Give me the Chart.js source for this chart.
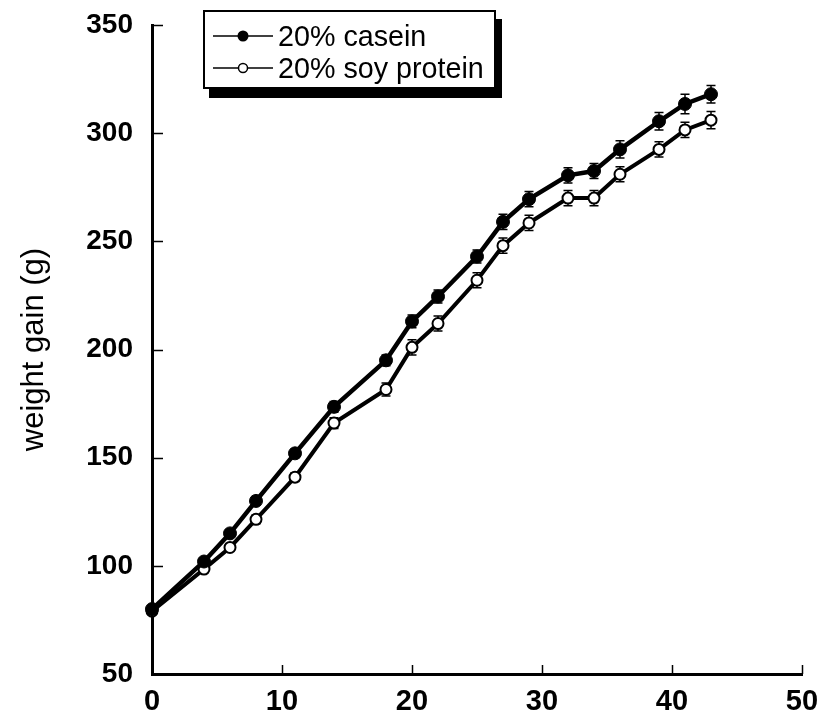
<!DOCTYPE html>
<html>
<head>
<meta charset="utf-8">
<script src="https://cdn.jsdelivr.net/npm/chart.js@4.4.1/dist/chart.umd.min.js"></script>
<style>
  html, body { margin: 0; padding: 0; background: #fff; }
  #wrap { position: relative; width: 821px; height: 712px; }
  #legend {
    position: absolute; left: 203px; top: 10px; width: 293px; height: 79px; box-sizing: border-box;
    border: 2px solid #000; background: #fff; box-shadow: 6px 9px 0 #000;
    font-family: "Liberation Sans", Arial, sans-serif; font-size: 28.7px; color: #000;
    white-space: nowrap;
  }
  #legend .row { position: absolute; left: 8px; height: 32px; display: flex; align-items: center; }
  #legend svg { margin-right: 5px; flex: none; }
</style>
</head>
<body>
<div id="wrap">
  <canvas id="lineChart" width="821" height="712"></canvas>
  <div id="legend">
    <div class="row" style="top:8px">
      <svg width="60" height="20"><line x1="0" y1="10" x2="60" y2="10" stroke="#000" stroke-width="1.5"/><circle cx="30" cy="10" r="5.5" fill="#000"/></svg>20% casein
    </div>
    <div class="row" style="top:40px">
      <svg width="60" height="20"><line x1="0" y1="10" x2="60" y2="10" stroke="#000" stroke-width="1.5"/><circle cx="30" cy="10" r="4.5" fill="#fff" stroke="#000" stroke-width="1.5"/></svg>20% soy protein
    </div>
  </div>
</div>
<script>
// days on diet
const days = [0, 4, 6, 8, 11, 14, 18, 20, 22, 25, 27, 29, 32, 34, 36, 39, 41, 43];
// weight gain (g)
const casein = [80, 102, 115, 130, 152, 173.5, 195, 213, 224.5, 243, 259, 269.5, 280.5, 282.5, 292.5, 305.5, 313.5, 318];
const soy = [79, 98.5, 108.5, 121.5, 141, 166, 181.5, 201, 212, 232, 248, 258.5, 270, 270, 281, 292.5, 301.5, 306];
// standard errors
const caseinErr = [1, 1.5, 1.5, 2, 2, 2.5, 2.5, 3, 3, 3, 3.5, 3.5, 3.5, 3.5, 4, 4, 4.5, 4];
const soyErr = [1, 1.5, 1.5, 2, 2, 2.5, 3, 3.5, 3.5, 3.5, 3.5, 3.5, 3.5, 3.5, 3.5, 3.5, 3.5, 4];

const xTicks = [0, 10, 20, 30, 40, 50];
const yTicks = [50, 100, 150, 200, 250, 300, 350];

const font = 'Liberation Sans, Arial, sans-serif';

// error bars, drawn under the markers
const errorBars = {
  id: 'errorBars',
  beforeDatasetsDraw(chart) {
    const ctx = chart.ctx;
    const xs = chart.scales.x, ys = chart.scales.y;
    const errs = [caseinErr, soyErr];
    ctx.save();
    ctx.strokeStyle = '#000';
    ctx.lineWidth = 1.5;
    chart.data.datasets.forEach((ds, i) => {
      ds.data.forEach((p, j) => {
        const px = xs.getPixelForValue(p.x);
        const top = ys.getPixelForValue(p.y + errs[i][j]);
        const bot = ys.getPixelForValue(p.y - errs[i][j]);
        ctx.beginPath();
        ctx.moveTo(px, top); ctx.lineTo(px, bot);
        ctx.moveTo(px - 4.5, top); ctx.lineTo(px + 4.5, top);
        ctx.moveTo(px - 4.5, bot); ctx.lineTo(px + 4.5, bot);
        ctx.stroke();
      });
    });
    ctx.restore();
  }
};

// tick marks pointing into the plot
const innerTicks = {
  id: 'innerTicks',
  afterDraw(chart) {
    const ctx = chart.ctx;
    const xs = chart.scales.x, ys = chart.scales.y;
    const area = chart.chartArea;
    ctx.save();
    ctx.strokeStyle = '#000';
    ctx.lineWidth = 1.5;
    ctx.beginPath();
    yTicks.forEach(v => {
      const py = Math.round(ys.getPixelForValue(v)) + 0.5;
      ctx.moveTo(area.left, py); ctx.lineTo(area.left + 11, py);
    });
    xTicks.forEach(v => {
      const px = Math.round(xs.getPixelForValue(v)) + 0.5;
      ctx.moveTo(px, area.bottom); ctx.lineTo(px, area.bottom - 9);
    });
    ctx.stroke();
    ctx.restore();
  }
};

new Chart(document.getElementById('lineChart').getContext('2d'), {
  type: 'line',
  data: {
    datasets: [
      {
        label: '20% casein',
        data: days.map((d, i) => ({ x: d, y: casein[i] })),
        borderColor: '#000',
        borderWidth: 4.5,
        pointRadius: 6.5,
        pointBackgroundColor: '#000',
        pointBorderColor: '#000',
        pointBorderWidth: 1,
        clip: false
      },
      {
        label: '20% soy protein',
        data: days.map((d, i) => ({ x: d, y: soy[i] })),
        borderColor: '#000',
        borderWidth: 4,
        pointRadius: 5.5,
        pointBackgroundColor: '#fff',
        pointBorderColor: '#000',
        pointBorderWidth: 2,
        clip: false
      }
    ]
  },
  options: {
    responsive: false,
    animation: false,
    layout: { padding: { left: 0, right: 19, top: 25, bottom: 0 } },
    plugins: {
      legend: { display: false },
      tooltip: { enabled: false }
    },
    scales: {
      x: {
        type: 'linear',
        min: 0, max: 50,
        afterFit: s => { s.height = 38; s.paddingLeft = 0; s.paddingRight = 0; },
        afterBuildTicks: s => { s.ticks = xTicks.map(v => ({ value: v })); },
        grid: { display: false, drawTicks: false },
        border: { display: true, color: '#000', width: 3 },
        ticks: { color: '#000', padding: 11, maxRotation: 0, font: { family: font, size: 29, weight: 'bold' } }
      },
      y: {
        type: 'linear',
        min: 50, max: 350,
        afterFit: s => { s.width = 152; s.paddingTop = 0; s.paddingBottom = 0; },
        afterBuildTicks: s => { s.ticks = yTicks.map(v => ({ value: v })); },
        grid: { display: false, drawTicks: false },
        border: { display: true, color: '#000', width: 3 },
        ticks: { color: '#000', padding: 19, font: { family: font, size: 28, weight: 'bold' } },
        title: {
          display: true,
          text: 'weight gain (g)',
          color: '#000',
          padding: { top: 16, bottom: 0 },
          font: { family: font, size: 31 }
        }
      }
    }
  },
  plugins: [errorBars, innerTicks]
});
</script>
</body>
</html>
